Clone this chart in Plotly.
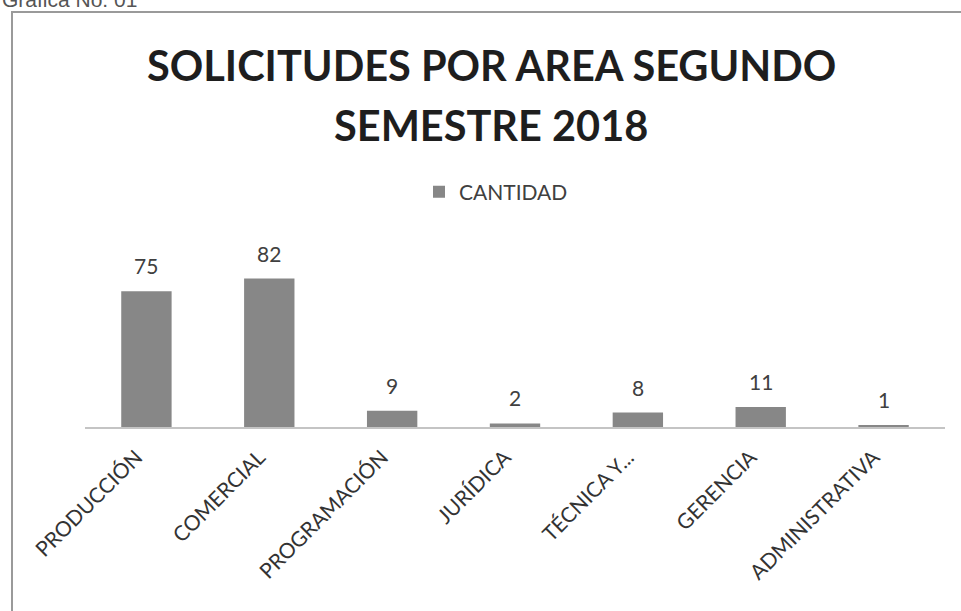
import plotly.graph_objects as go

categories = ["PRODUCCIÓN", "COMERCIAL", "PROGRAMACIÓN", "JURÍDICA", "TÉCNICA Y...", "GERENCIA", "ADMINISTRATIVA"]
values = [75, 82, 9, 2, 8, 11, 1]
series_name = "CANTIDAD"
title_line1 = "SOLICITUDES POR AREA SEGUNDO"
title_line2 = "SEMESTRE 2018"
caption = "Gráfica No. 01"

W, H = 961, 611
L, R, T, B = 85, 16, 230, 184
PW = W - L - R
PH = H - T - B

def px(x):
    return (x - L) / PW

def py(y):
    return (H - B - y) / PH

FONT = "Lato, 'Open Sans', sans-serif"

fig = go.Figure()
fig.add_trace(go.Bar(
    x=categories, y=values, name=series_name,
    marker=dict(color="#878787", line=dict(width=0)),
    showlegend=True,
))

annotations = []
for c, v in zip(categories, values):
    annotations.append(dict(x=c, y=v, xref="x", yref="y", text=str(v), showarrow=False,
                            yanchor="bottom", yshift=11,
                            font=dict(family=FONT, size=21, color="#404040")))

annotations += [
    dict(x=px(491), y=py(65), xref="paper", yref="paper", text="<b>" + title_line1 + "</b>", showarrow=False,
         xanchor="center", yanchor="middle", font=dict(family=FONT, size=41.5, color="#1e1e1e")),
    dict(x=px(491), y=py(125), xref="paper", yref="paper", text="<b>" + title_line2 + "</b>", showarrow=False,
         xanchor="center", yanchor="middle", font=dict(family=FONT, size=41.5, color="#1e1e1e")),
    dict(x=px(0), y=py(-1), xref="paper", yref="paper", text=caption, showarrow=False,
         xanchor="left", yanchor="middle", font=dict(family="Liberation Sans, Arial, sans-serif", size=21, color="#555555")),
]

fig.update_layout(
    width=W, height=H,
    margin=dict(l=L, r=R, t=T, b=B),
    paper_bgcolor="white", plot_bgcolor="white",
    bargap=0.59,
    font=dict(family=FONT, color="#404040"),
    legend=dict(orientation="h", x=px(496), y=py(192), xanchor="center", yanchor="middle",
                font=dict(family=FONT, size=21, color="#404040"), bgcolor="rgba(0,0,0,0)"),
    annotations=annotations,
    shapes=[dict(type="rect", xref="paper", yref="paper",
                 x0=px(12), y0=py(620), x1=px(970), y1=py(12),
                 line=dict(color="#9a9a9a", width=2), layer="below")],
    xaxis=dict(showline=True, linecolor="#c4c4c4", linewidth=1.5, ticks="", showgrid=False,
               tickangle=-45, ticklabelstandoff=8, ticklabelshift=-10,
               tickfont=dict(family=FONT, size=21, color="#333333")),
    yaxis=dict(range=[0, PH / 1.81], visible=False, showgrid=False, zeroline=False),
)

fig.write_html("out.html")
